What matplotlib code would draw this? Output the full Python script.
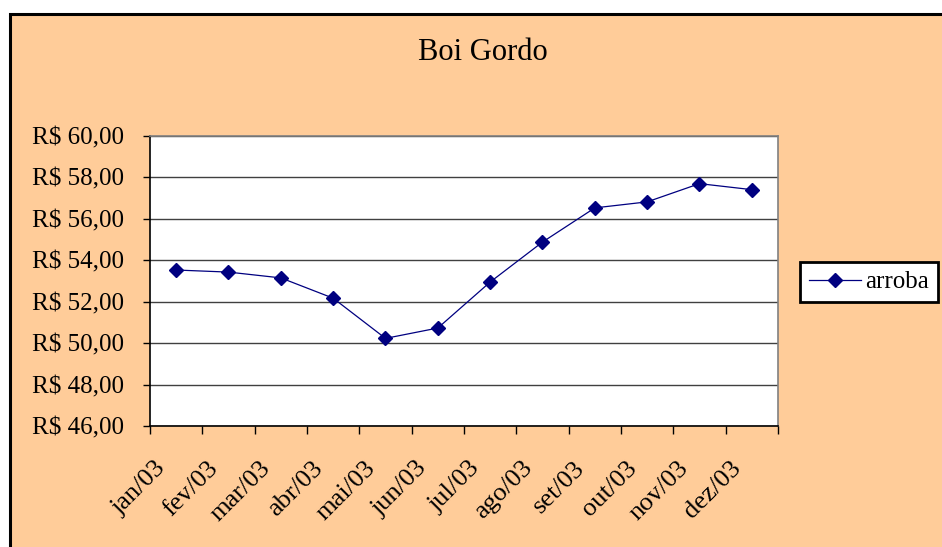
import matplotlib.pyplot as plt
from matplotlib.patches import Rectangle
from matplotlib.transforms import ScaledTranslation

# dados
meses = ['jan/03', 'fev/03', 'mar/03', 'abr/03', 'mai/03', 'jun/03',
         'jul/03', 'ago/03', 'set/03', 'out/03', 'nov/03', 'dez/03']
arroba = [53.53, 53.43, 53.15, 52.17, 50.23, 50.73,
          52.95, 54.88, 56.53, 56.82, 57.70, 57.41]
y_ticks = [46, 48, 50, 52, 54, 56, 58, 60]

plt.rcParams['font.family'] = ['Liberation Serif', 'DejaVu Serif']

fig = plt.figure(figsize=(9.42, 5.47), dpi=100)
fig.patch.set_facecolor('white')

# fundo laranja com borda preta (cortada à direita e embaixo)
W, H = 942, 547
fig.patches.append(Rectangle((10 / W, -0.05), 1.05, (H - 14) / H + 0.05,
                             transform=fig.transFigure, facecolor='#FFCC99',
                             edgecolor='black', linewidth=2.2, zorder=-10))

ax = fig.add_axes([150 / W, 1 - 426 / H, (778 - 150) / W, (426 - 136) / H])
ax.set_zorder(1)
ax.set_facecolor('white')

x = list(range(len(meses)))
ax.plot(x, arroba, color='#000080', marker='D', markersize=7.5,
        linewidth=0.9, label='arroba', zorder=3)

ax.set_xlim(-0.5, len(meses) - 0.5)
ax.set_ylim(46, 60)
ax.set_yticks(y_ticks)
ax.set_yticklabels([f'R$ {v:.2f}'.replace('.', ',') for v in y_ticks], fontsize=18)
ax.yaxis.grid(True, color='#404040', linewidth=1)
ax.set_axisbelow(True)

# marcas do eixo x entre as categorias
ax.set_xticks([i - 0.5 for i in range(len(meses) + 1)])
ax.set_xticklabels([])
ax.set_xticks(x, minor=True)
ax.set_xticklabels(meses, minor=True, rotation=45, ha='right', va='center',
                   rotation_mode='anchor', fontsize=19)
ax.tick_params(axis='x', which='minor', length=0, pad=28)
ax.tick_params(axis='x', which='major', length=6, width=1, direction='out')
ax.tick_params(axis='y', length=5, width=1, direction='out', pad=14)
shift = ScaledTranslation(-14 / 100, 0, fig.dpi_scale_trans)
for lbl in ax.get_xticklabels(minor=True):
    lbl.set_transform(lbl.get_transform() + shift)

for s in ['left', 'bottom']:
    ax.spines[s].set_color('black')
    ax.spines[s].set_linewidth(1.2)
for s in ['top', 'right']:
    ax.spines[s].set_color('#808080')
    ax.spines[s].set_linewidth(1.2)

fig.text(483 / W, 1 - 52 / H, 'Boi Gordo', ha='center', va='center', fontsize=22)

leg = ax.legend(loc='center left', bbox_to_anchor=(800 / W, 1 - 282 / H),
                bbox_transform=fig.transFigure, fontsize=18, frameon=True,
                fancybox=False, borderpad=0.35, handlelength=2.1,
                handletextpad=0.15, borderaxespad=0)
leg.get_frame().set_edgecolor('black')
leg.get_frame().set_linewidth(2)
leg.get_frame().set_facecolor('white')
leg.get_frame().set_alpha(1)

fig.savefig('out.png', dpi=100, facecolor=fig.get_facecolor())
